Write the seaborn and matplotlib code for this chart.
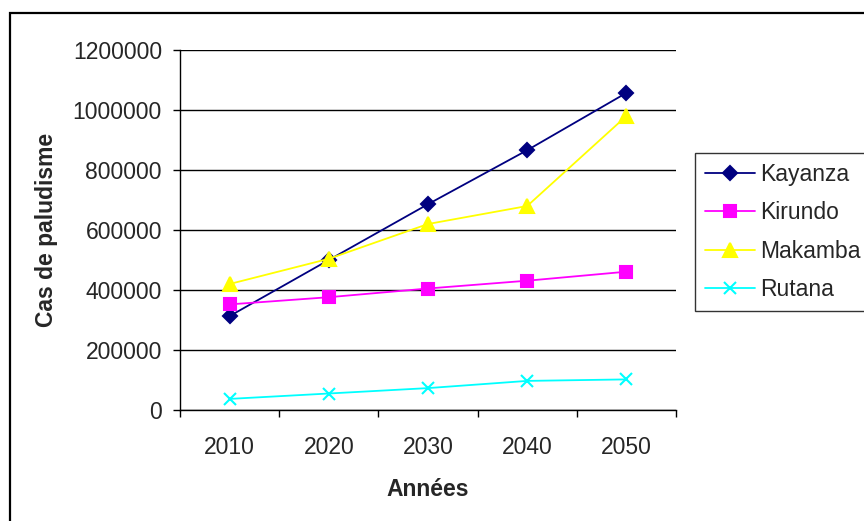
import pandas as pd
import numpy as np
import seaborn as sns
import matplotlib.pyplot as plt
from matplotlib.patches import Rectangle

# Data
years = [2010, 2020, 2030, 2040, 2050]
kayanza = [313000, 500000, 686000, 866000, 1057000]
kirundo = [352000, 376000, 405000, 431000, 461000]
makamba = [420000, 504000, 620000, 680000, 980000]
rutana = [37000, 55000, 73000, 97000, 102000]

df = pd.DataFrame({'Année': years, 'Kayanza': kayanza, 'Kirundo': kirundo,
                   'Makamba': makamba, 'Rutana': rutana})

colors = {'Kayanza': '#000080', 'Kirundo': '#FF00FF', 'Makamba': '#FFFF00', 'Rutana': '#00FFFF'}
markers = {'Kayanza': 'D', 'Kirundo': 's', 'Makamba': '^', 'Rutana': 'x'}
msizes = {'Kayanza': 7, 'Kirundo': 8, 'Makamba': 10, 'Rutana': 9}

sns.set_style('white')
plt.rcParams['font.family'] = ['Liberation Sans', 'DejaVu Sans']
fs = 16.5

fig = plt.figure(figsize=(8.64, 5.21), dpi=100)
ax = fig.add_axes([180 / 864, 111 / 521, 496 / 864, 360 / 521])

# one call per series, since filled and line-art markers can't be mixed in one lineplot
for name in ['Kayanza', 'Kirundo', 'Makamba', 'Rutana']:
    sns.lineplot(data=df, x='Année', y=name, color=colors[name], marker=markers[name],
                 markersize=msizes[name], markeredgewidth=1.5, markeredgecolor=colors[name],
                 linewidth=1.3, label=name, ax=ax)

# Excel-like axes: ticks between categories, labels at category centres
ax.set_xlim(2005, 2055)
ax.set_xticks([2005, 2015, 2025, 2035, 2045, 2055])
ax.set_xticklabels([])
ax.set_xticks(years, minor=True)
ax.set_xticklabels([str(y) for y in years], minor=True)
ax.tick_params(axis='x', which='major', direction='out', length=5, width=1, color='black', bottom=True)
ax.tick_params(axis='x', which='minor', length=0, pad=19, labelsize=fs)

ax.set_ylim(0, 1200000)
ax.set_yticks(np.arange(0, 1200001, 200000))
ax.set_yticklabels([str(v) for v in range(0, 1200001, 200000)])
ax.tick_params(axis='y', direction='out', length=5, width=1, color='black', left=True, pad=8, labelsize=fs)
ax.grid(axis='y', color='black', linewidth=1)
ax.set_axisbelow(True)

for side in ['top', 'right']:
    ax.spines[side].set_visible(False)
for side in ['left', 'bottom']:
    ax.spines[side].set_color('black')
    ax.spines[side].set_linewidth(1)

ax.set_xlabel('Années', fontsize=fs, fontweight='bold')
ax.set_ylabel('Cas de paludisme', fontsize=fs, fontweight='bold')
ax.xaxis.set_label_coords(0.5, -0.19)
ax.yaxis.set_label_coords(-0.245, 0.5)

handles, labels = ax.get_legend_handles_labels()
ax.legend_.remove()
leg = fig.legend(handles, labels, loc='upper left', bbox_to_anchor=(695 / 864, 1 - 153 / 521),
                 fontsize=fs, frameon=True, fancybox=False, edgecolor='black',
                 handlelength=2.2, handletextpad=0.2, labelspacing=0.68, borderpad=0.42,
                 borderaxespad=0)
leg.get_frame().set_linewidth(1)

# outer chart border (only left and top edges fall inside the picture)
fig.patches.append(Rectangle((9.5 / 864, -0.1), 1.5, 1.1 - 12.5 / 521, transform=fig.transFigure,
                             fill=False, edgecolor='black', linewidth=1.6))

fig.savefig('out.png', dpi=100)
plt.close()
